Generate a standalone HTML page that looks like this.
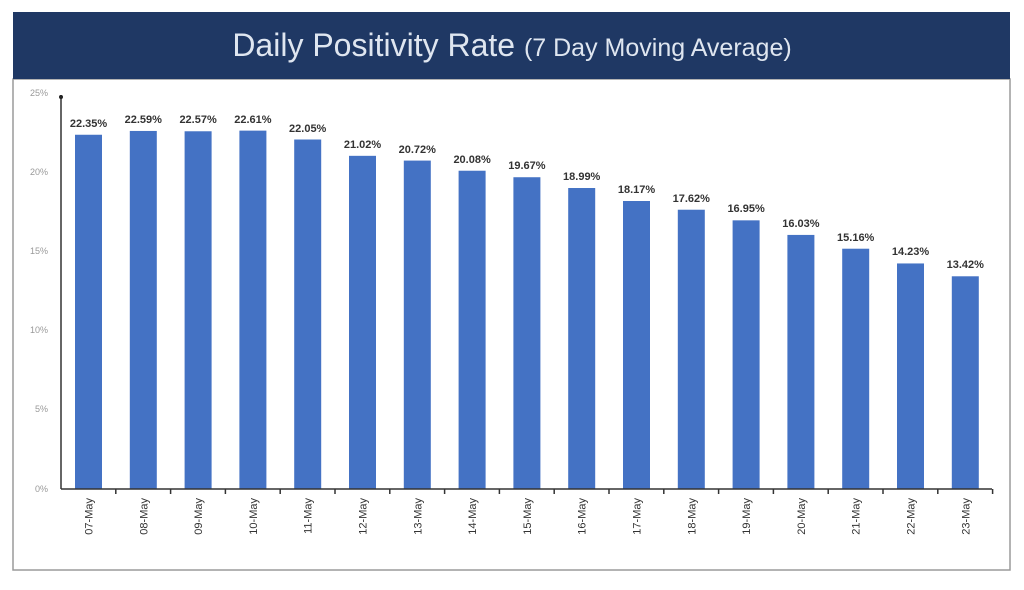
<!DOCTYPE html>
<html><head><meta charset="utf-8"><style>
body{margin:0;background:#fff;}
</style></head><body>
<svg width="1024" height="585" xmlns="http://www.w3.org/2000/svg" font-family="Liberation Sans, sans-serif">
<rect x="0" y="0" width="1024" height="585" fill="#fff"/>
<rect x="13" y="79" width="997" height="491" fill="#fff" stroke="#9a9a9a" stroke-width="1.5"/>
<rect x="13" y="12" width="997" height="67" fill="#1f3864"/>
<text x="512" y="56" text-anchor="middle" fill="#dfe6f0" font-size="32">Daily Positivity Rate <tspan font-size="25">(7 Day Moving Average)</tspan></text>
<g font-size="9" fill="#999" text-anchor="end">
<text x="48" y="96">25%</text><text x="48" y="175">20%</text><text x="48" y="254">15%</text>
<text x="48" y="333">10%</text><text x="48" y="412">5%</text><text x="48" y="492">0%</text>
</g>
<g fill="#4472c4">
<rect x="75" y="134.75" width="27" height="354.25"/>
<rect x="129.8" y="130.95" width="27" height="358.05"/>
<rect x="184.6" y="131.27" width="27" height="357.73"/>
<rect x="239.4" y="130.63" width="27" height="358.37"/>
<rect x="294.2" y="139.51" width="27" height="349.49"/>
<rect x="349" y="155.83" width="27" height="333.17"/>
<rect x="403.8" y="160.59" width="27" height="328.41"/>
<rect x="458.6" y="170.73" width="27" height="318.27"/>
<rect x="513.4" y="177.23" width="27" height="311.77"/>
<rect x="568.2" y="188.01" width="27" height="300.99"/>
<rect x="623" y="201" width="27" height="288"/>
<rect x="677.8" y="209.72" width="27" height="279.28"/>
<rect x="732.6" y="220.34" width="27" height="268.66"/>
<rect x="787.4" y="234.92" width="27" height="254.08"/>
<rect x="842.2" y="248.71" width="27" height="240.29"/>
<rect x="897" y="263.45" width="27" height="225.55"/>
<rect x="951.8" y="276.29" width="27" height="212.71"/>
</g>
<g font-size="11" font-weight="bold" fill="#333" text-anchor="middle">
<text x="88.5" y="127">22.35%</text>
<text x="143.3" y="123">22.59%</text>
<text x="198.1" y="123">22.57%</text>
<text x="252.9" y="123">22.61%</text>
<text x="307.7" y="132">22.05%</text>
<text x="362.5" y="148">21.02%</text>
<text x="417.3" y="153">20.72%</text>
<text x="472.1" y="163">20.08%</text>
<text x="526.9" y="169">19.67%</text>
<text x="581.7" y="180">18.99%</text>
<text x="636.5" y="193">18.17%</text>
<text x="691.3" y="202">17.62%</text>
<text x="746.1" y="212">16.95%</text>
<text x="800.9" y="227">16.03%</text>
<text x="855.7" y="241">15.16%</text>
<text x="910.5" y="255">14.23%</text>
<text x="965.3" y="268">13.42%</text>
</g>
<line x1="61" y1="95" x2="61" y2="489" stroke="#333" stroke-width="1.5"/>
<circle cx="61" cy="97" r="2" fill="#222"/>
<line x1="61" y1="489" x2="992" y2="489" stroke="#333" stroke-width="1.5"/>
<path d="M115.8 489v5M170.6 489v5M225.4 489v5M280.2 489v5M335 489v5M389.8 489v5M444.6 489v5M499.4 489v5M554.2 489v5M609 489v5M663.8 489v5M718.6 489v5M773.4 489v5M828.2 489v5M883 489v5M937.8 489v5M992.6 489v5" stroke="#333" stroke-width="1.5"/>
<g font-size="11" fill="#333" text-anchor="end">
<text transform="translate(92.5,498) rotate(-90)">07-May</text>
<text transform="translate(147.3,498) rotate(-90)">08-May</text>
<text transform="translate(202.1,498) rotate(-90)">09-May</text>
<text transform="translate(256.9,498) rotate(-90)">10-May</text>
<text transform="translate(311.7,498) rotate(-90)">11-May</text>
<text transform="translate(366.5,498) rotate(-90)">12-May</text>
<text transform="translate(421.3,498) rotate(-90)">13-May</text>
<text transform="translate(476.1,498) rotate(-90)">14-May</text>
<text transform="translate(530.9,498) rotate(-90)">15-May</text>
<text transform="translate(585.7,498) rotate(-90)">16-May</text>
<text transform="translate(640.5,498) rotate(-90)">17-May</text>
<text transform="translate(695.3,498) rotate(-90)">18-May</text>
<text transform="translate(750.1,498) rotate(-90)">19-May</text>
<text transform="translate(804.9,498) rotate(-90)">20-May</text>
<text transform="translate(859.7,498) rotate(-90)">21-May</text>
<text transform="translate(914.5,498) rotate(-90)">22-May</text>
<text transform="translate(969.3,498) rotate(-90)">23-May</text>
</g>
</svg>
</body></html>
